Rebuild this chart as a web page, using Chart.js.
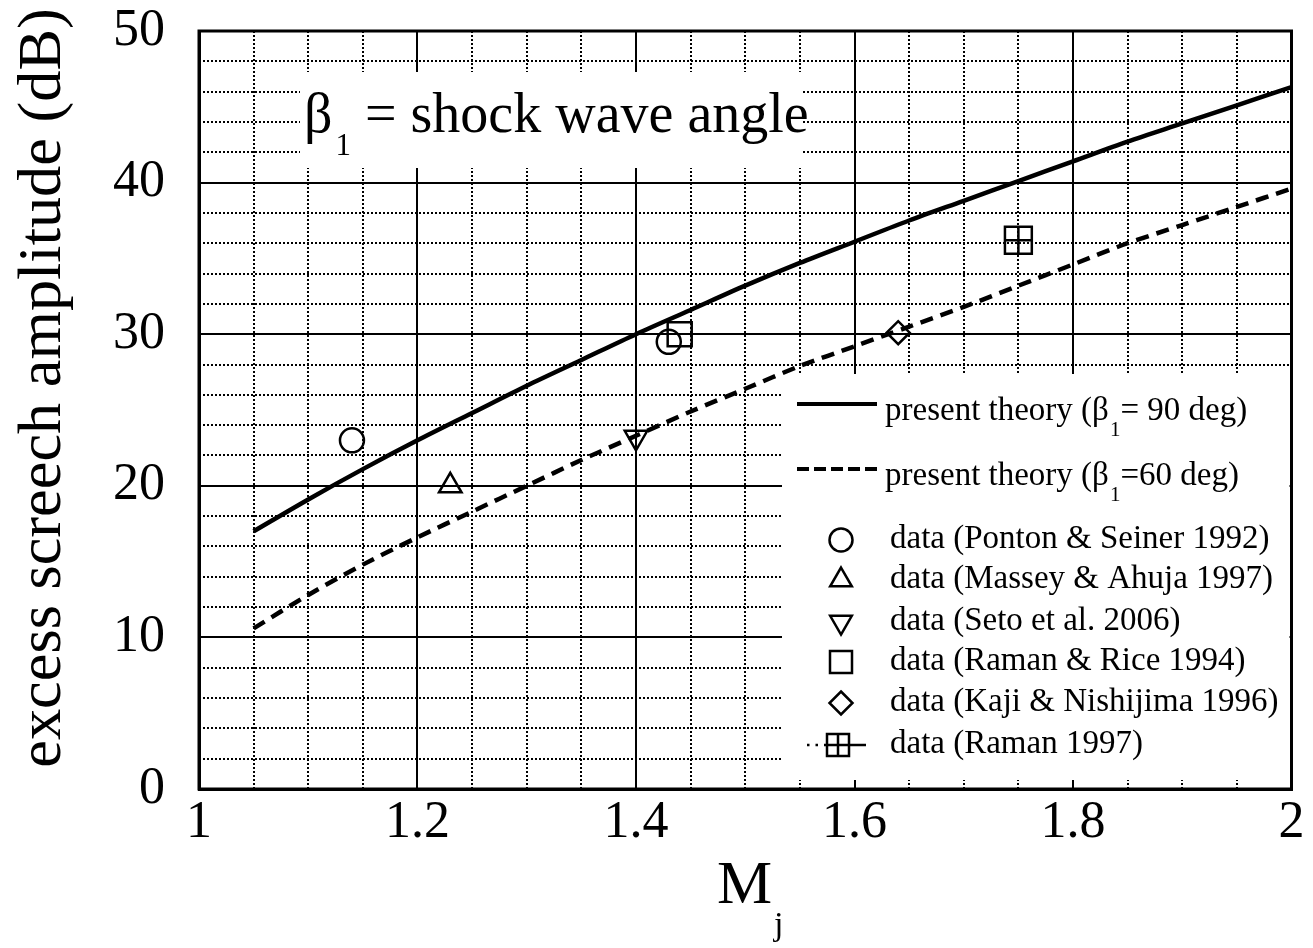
<!DOCTYPE html>
<html>
<head>
<meta charset="utf-8">
<script src="https://cdn.jsdelivr.net/npm/chart.js@4.4.1/dist/chart.umd.min.js"></script>
<style>
  html, body { margin: 0; padding: 0; background: #fff; }
  #wrap { width: 1313px; height: 948px; position: relative; }
</style>
</head>
<body>
<div id="wrap"><canvas id="c" width="1313" height="948"></canvas></div>
<script>
// ---------- data ----------
const machTheory = [1.05, 1.10, 1.15, 1.20, 1.25, 1.30, 1.35, 1.40, 1.45, 1.50,
                    1.55, 1.60, 1.65, 1.70, 1.75, 1.80, 1.85, 1.90, 1.95, 2.00];
const theory90 = [17.0, 19.1, 21.1, 23.0, 24.8, 26.6, 28.3, 30.0, 31.6, 33.2,
                  34.7, 36.1, 37.5, 38.8, 40.1, 41.4, 42.7, 43.9, 45.1, 46.3];
const theory60 = [10.6, 12.8, 14.8, 16.6, 18.3, 20.0, 21.7, 23.3, 24.9, 26.4,
                  27.9, 29.2, 30.5, 31.8, 33.2, 34.6, 36.0, 37.2, 38.4, 39.6];

const pontonM = [1.14, 1.43];   const pontonA = [23.0, 29.5];
const masseyM = [1.23];         const masseyA = [20.0];
const setoM = [1.40];           const setoA = [23.2];
const ramanRiceM = [1.44];      const ramanRiceA = [30.0];
const kajiM = [1.64];           const kajiA = [30.1];
const raman97M = [1.75];        const raman97A = [36.2];

const xTickValues = [1, 1.2, 1.4, 1.6, 1.8, 2];
const xTickLabels = ['1', '1.2', '1.4', '1.6', '1.8', '2'];
const yTickValues = [0, 10, 20, 30, 40, 50];
const yTickLabels = ['0', '10', '20', '30', '40', '50'];

const yTitle = 'excess screech amplitude (dB)';
const xTitleMain = 'M';
const xTitleSub = 'j';
const boxText = ['β', '1', ' = shock wave angle'];

const legendItems = [
  { kind: 'solid',  pre: 'present theory (β', sub: '1', post: '= 90 deg)' },
  { kind: 'dashed', pre: 'present theory (β', sub: '1', post: '=60 deg)' },
  { kind: 'circle',   text: 'data (Ponton & Seiner 1992)' },
  { kind: 'triangle', text: 'data (Massey & Ahuja 1997)' },
  { kind: 'triDown',  text: 'data (Seto et al. 2006)' },
  { kind: 'square',   text: 'data (Raman & Rice 1994)' },
  { kind: 'diamond',  text: 'data (Kaji & Nishijima 1996)' },
  { kind: 'sqPlus',   text: 'data (Raman 1997)' }
];

// ---------- helpers ----------
const pts = (xs, ys) => xs.map((x, i) => ({ x: x, y: ys[i] }));
const FONT = "'Liberation Serif', 'Times New Roman', serif";

function drawMarker(ctx, kind, x, y) {
  ctx.save();
  ctx.strokeStyle = '#000';
  ctx.lineWidth = 2.5;
  ctx.beginPath();
  if (kind === 'circle') {
    ctx.arc(x, y, 11.5, 0, Math.PI * 2);
  } else if (kind === 'triangle' || kind === 'triDown') {
    const s = kind === 'triangle' ? 1 : -1;
    const r = 12.5;
    ctx.moveTo(x, y - s * r);
    ctx.lineTo(x + r * 0.866, y + s * r * 0.5);
    ctx.lineTo(x - r * 0.866, y + s * r * 0.5);
    ctx.closePath();
  } else if (kind === 'square') {
    ctx.rect(x - 11, y - 11, 22, 22);
  } else if (kind === 'diamond') {
    ctx.moveTo(x, y - 11.5); ctx.lineTo(x + 11.5, y); ctx.lineTo(x, y + 11.5); ctx.lineTo(x - 11.5, y);
    ctx.closePath();
  } else if (kind === 'sqPlus') {
    ctx.rect(x - 11, y - 11, 22, 22);
    ctx.moveTo(x - 11, y); ctx.lineTo(x + 11, y);
    ctx.moveTo(x, y - 11); ctx.lineTo(x, y + 11);
  }
  ctx.stroke();
  ctx.restore();
}

const decorPlugin = {
  id: 'decor',
  beforeDatasetsDraw(chart) {
    const ctx = chart.ctx;
    const a = chart.chartArea;
    ctx.save();
    ctx.fillStyle = '#fff';
    // label box for beta text
    ctx.fillRect(300, 72, 503, 96);
    // legend box
    ctx.fillRect(782, 374, a.right - 782 - 2, 780 - 374);
    ctx.restore();
  },
  afterDraw(chart) {
    const ctx = chart.ctx;
    const a = chart.chartArea;
    ctx.save();
    // frame
    ctx.strokeStyle = '#000';
    ctx.lineWidth = 3;
    ctx.strokeRect(a.left, a.top, a.right - a.left, a.bottom - a.top);

    ctx.fillStyle = '#000';
    ctx.textBaseline = 'alphabetic';
    ctx.textAlign = 'left';

    // beta annotation
    ctx.font = '56px ' + FONT;
    ctx.fillText(boxText[0], 304, 132);
    let bx = 304 + ctx.measureText(boxText[0]).width + 3;
    ctx.font = '31px ' + FONT;
    ctx.fillText(boxText[1], bx, 155);
    bx += ctx.measureText(boxText[1]).width;
    ctx.font = '56px ' + FONT;
    ctx.fillText(boxText[2], bx, 132);

    // y axis title (fitted to the reference length)
    ctx.save();
    ctx.font = '60px ' + FONT;
    const w = ctx.measureText(yTitle).width;
    const size = 60 * 760 / w;
    ctx.font = size.toFixed(1) + 'px ' + FONT;
    ctx.translate(60, 388);
    ctx.rotate(-Math.PI / 2);
    ctx.textAlign = 'center';
    ctx.fillText(yTitle, 0, 0);
    ctx.restore();

    // x axis title M_j
    ctx.font = '62px ' + FONT;
    ctx.textAlign = 'left';
    ctx.fillText(xTitleMain, 717, 903);
    ctx.font = '34px ' + FONT;
    ctx.fillText(xTitleSub, 774, 935);

    // legend
    const rowY = [412, 477, 540, 580, 622, 662, 703, 745];
    const markX = 841;
    legendItems.forEach((it, i) => {
      const cy = rowY[i];
      const base = cy + 8;
      ctx.strokeStyle = '#000';
      if (it.kind === 'solid' || it.kind === 'dashed') {
        ctx.save();
        ctx.lineWidth = 4;
        ctx.setLineDash(it.kind === 'dashed' ? [12, 5] : []);
        ctx.beginPath();
        ctx.moveTo(797, cy - 8);
        ctx.lineTo(877, cy - 8);
        ctx.stroke();
        ctx.restore();
        ctx.font = '33px ' + FONT;
        let tx = 885;
        ctx.fillText(it.pre, tx, base);
        tx += ctx.measureText(it.pre).width + 1;
        ctx.font = '21px ' + FONT;
        ctx.fillText(it.sub, tx, base + 16);
        tx += ctx.measureText(it.sub).width;
        ctx.font = '33px ' + FONT;
        ctx.fillText(it.post, tx, base);
      } else {
        if (it.kind === 'sqPlus') {
          ctx.save();
          ctx.lineWidth = 2.5;
          ctx.setLineDash([2.5, 6]);
          ctx.beginPath(); ctx.moveTo(807, cy); ctx.lineTo(827, cy); ctx.stroke();
          ctx.setLineDash([]);
          ctx.beginPath(); ctx.moveTo(850, cy); ctx.lineTo(866, cy); ctx.stroke();
          ctx.restore();
          drawMarker(ctx, it.kind, markX - 3, cy);
        } else {
          drawMarker(ctx, it.kind, markX, cy);
        }
        ctx.font = '33px ' + FONT;
        ctx.fillText(it.text, 890, base);
      }
    });
    ctx.restore();
  }
};

const markerBase = { type: 'scatter', borderColor: '#000', backgroundColor: 'rgba(0,0,0,0)', borderWidth: 2.5 };

new Chart(document.getElementById('c'), {
  type: 'scatter',
  data: {
    datasets: [
      Object.assign({}, markerBase, { label: 'data (Ponton & Seiner 1992)', data: pts(pontonM, pontonA), pointStyle: 'circle', pointRadius: 12 }),
      Object.assign({}, markerBase, { label: 'data (Massey & Ahuja 1997)', data: pts(masseyM, masseyA), pointStyle: 'triangle', pointRadius: 13 }),
      Object.assign({}, markerBase, { label: 'data (Seto et al. 2006)', data: pts(setoM, setoA), pointStyle: 'triangle', pointRotation: 180, pointRadius: 13 }),
      Object.assign({}, markerBase, { label: 'data (Raman & Rice 1994)', data: pts(ramanRiceM, ramanRiceA), pointStyle: 'rect', pointRadius: 17 }),
      Object.assign({}, markerBase, { label: 'data (Kaji & Nishijima 1996)', data: pts(kajiM, kajiA), pointStyle: 'rectRot', pointRadius: 11.5 }),
      Object.assign({}, markerBase, { label: 'data (Raman 1997)', data: pts(raman97M, raman97A), pointStyle: 'rect', pointRadius: 19 }),
      Object.assign({}, markerBase, { label: 'data (Raman 1997) cross', data: pts(raman97M, raman97A), pointStyle: 'cross', pointRadius: 13.5 }),
      { type: 'line', label: 'present theory (β1= 90 deg)', data: pts(machTheory, theory90),
        borderColor: '#000', borderWidth: 4.5, pointRadius: 0, tension: 0.3, fill: false },
      { type: 'line', label: 'present theory (β1=60 deg)', data: pts(machTheory, theory60),
        borderColor: '#000', borderWidth: 4.5, borderDash: [13, 8], pointRadius: 0, tension: 0.3, fill: false }
    ]
  },
  options: {
    responsive: false,
    animation: false,
    devicePixelRatio: 1,
    layout: { padding: { top: 31, right: 17, left: 0, bottom: 0 } },
    plugins: { legend: { display: false }, tooltip: { enabled: false }, title: { display: false } },
    scales: {
      xMinor: {
        type: 'linear', position: 'bottom', min: 1, max: 2,
        ticks: { display: false, stepSize: 0.05 },
        grid: { color: '#000', lineWidth: 2, drawTicks: false },
        border: { display: false, dash: [2, 2] },
        afterFit(s) { s.height = 0; s.paddingLeft = 0; s.paddingRight = 0; }
      },
      yMinor: {
        type: 'linear', position: 'left', min: 0, max: 50,
        ticks: { display: false, stepSize: 2 },
        grid: { color: '#000', lineWidth: 2, drawTicks: false },
        border: { display: false, dash: [2, 2] },
        afterFit(s) { s.width = 0; s.paddingTop = 0; s.paddingBottom = 0; }
      },
      x: {
        type: 'linear', position: 'bottom', min: 1, max: 2,
        afterBuildTicks(s) { s.ticks = xTickValues.map(v => ({ value: v })); },
        ticks: {
          color: '#000', padding: 3, maxRotation: 0, autoSkip: false,
          font: { family: 'Liberation Serif', size: 52 },
          callback(v) { const i = xTickValues.indexOf(v); return i >= 0 ? xTickLabels[i] : ''; }
        },
        grid: { color: '#000', lineWidth: 2, drawTicks: false },
        border: { display: true, color: '#000', width: 3 },
        afterFit(s) { s.height = 159; s.paddingLeft = 0; s.paddingRight = 0; }
      },
      y: {
        type: 'linear', position: 'left', min: 0, max: 50,
        afterBuildTicks(s) { s.ticks = yTickValues.map(v => ({ value: v })); },
        ticks: {
          color: '#000', padding: 34, autoSkip: false,
          font: { family: 'Liberation Serif', size: 52 },
          callback(v) { const i = yTickValues.indexOf(v); return i >= 0 ? yTickLabels[i] : ''; }
        },
        grid: { color: '#000', lineWidth: 2, drawTicks: false },
        border: { display: true, color: '#000', width: 3 },
        afterFit(s) { s.width = 199; s.paddingTop = 0; s.paddingBottom = 0; }
      }
    }
  },
  plugins: [decorPlugin]
});
</script>
</body>
</html>
